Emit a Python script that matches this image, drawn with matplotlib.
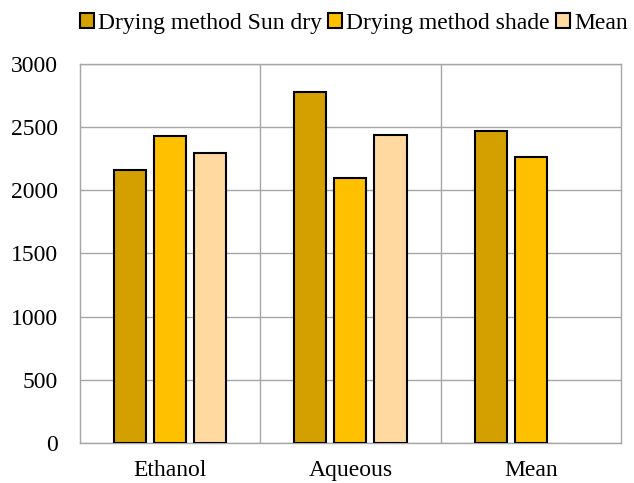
import matplotlib
matplotlib.use("Agg")
from matplotlib import pyplot as plt
import numpy as np

plt.rcParams['font.family'] = ['Liberation Serif', 'DejaVu Serif']

categories = ["Ethanol", "Aqueous", "Mean"]
sun_dry = [2158, 2782, 2470]
shade = [2430, 2094, 2262]
mean = [2294, 2438, np.nan]
labels = ["Drying method Sun dry", "Drying method shade", "Mean"]
colors = ["#d4a000", "#ffc000", "#ffd9a0"]

fig = plt.figure(figsize=(6.34, 4.83), dpi=100)
ax = fig.add_axes([0.126, 0.083, 0.8535, 0.7845])

x = np.arange(len(categories))
w = 0.178
offs = [-0.222, 0.0, 0.222]
for vals, off, c, lab in zip([sun_dry, shade, mean], offs, colors, labels):
    ax.bar(x + off, vals, w, color=c, edgecolor="black", linewidth=1.5, label=lab, zorder=3)

ax.set_xlim(-0.5, 2.5)
ax.set_ylim(0, 3000)
ax.set_yticks(np.arange(0, 3001, 500))
ax.set_xticks(x)
ax.set_xticklabels(categories)
ax.set_xticks([0.5, 1.5], minor=True)
ax.grid(axis="y", color="#a6a6a6", linewidth=1)
ax.grid(axis="x", which="minor", color="#a6a6a6", linewidth=1)
ax.tick_params(which="both", length=0, labelsize=17)
ax.tick_params(axis="x", pad=12)
ax.tick_params(axis="y", pad=16)
for s in ax.spines.values():
    s.set_color("#a6a6a6")
    s.set_linewidth(1)

ax.legend(loc="lower center", bbox_to_anchor=(0.506, 1.055), ncol=3, frameon=False,
          fontsize=17, handlelength=0.6, handleheight=0.6, handletextpad=0.15,
          columnspacing=0.28, borderaxespad=0)

plt.savefig("out.png", dpi=100)
